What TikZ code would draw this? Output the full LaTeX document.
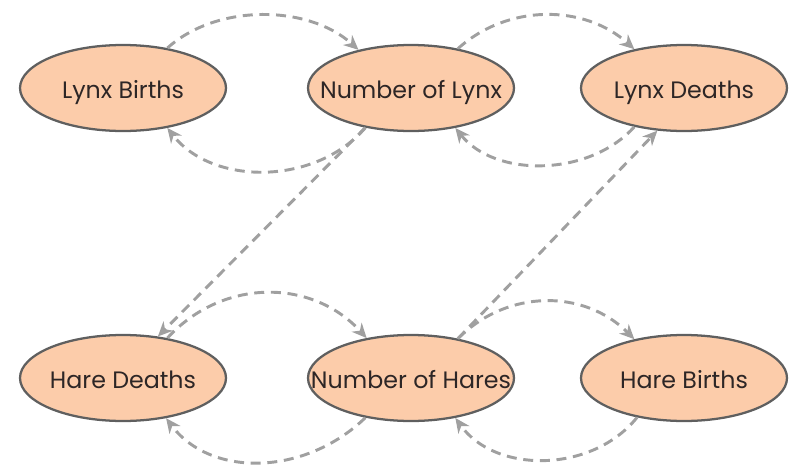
\documentclass[tikz,border=0pt]{standalone}
\usepackage{fontspec}
\setmainfont{Poppins}
\usetikzlibrary{shapes.geometric,arrows.meta}

\tikzset{every picture/.style={line width=0.75pt}}
\tikzset{
  stock/.style={ellipse, draw={rgb,255:red,95;green,95;blue,95}, line width=1.7pt,
    fill={rgb,255:red,252;green,204;blue,170}, minimum width=154.5pt, minimum height=64.5pt,
    inner xsep=-30pt, inner ysep=0pt, text height=16pt, text depth=0pt,
    text={rgb,255:red,45;green,38;blue,38}, font=\fontsize{17.8}{21}\selectfont},
  link/.style={draw={rgb,255:red,160;green,160;blue,160}, line width=2.2pt,
    dash pattern=on 7.5pt off 5pt, -{Stealth[length=11pt,width=10pt,inset=3.5pt]}},
}

\begin{document}
\begin{tikzpicture}[x=0.75pt,y=0.75pt,yscale=-1,xscale=1]
\useasboundingbox (0,0) rectangle (800,475); %diagram is 800 by 475

%Shape: Ellipse [lynx]
\node[stock] (lb) at (123,88) {Lynx Births};
\node[stock] (nl) at (411,88) {Number of Lynx};
\node[stock] (ld) at (684,88) {Lynx Deaths};
%Shape: Ellipse [hares]
\node[stock] (hd) at (123,378) {Hare Deaths};
\node[stock] (nh) at (411,378) {Number of Hares};
\node[stock] (hb) at (684,378) {Hare Births};

%Curve Lines [lynx loop]
\draw[link] (lb.42) .. controls +(50,-45) and +(-50,-45) .. (nl.144);
\draw[link] (nl.221) .. controls +(-50,58) and +(45,58) .. (lb.318);
\draw[link] (nl.40) .. controls +(50,-45) and +(-50,-45) .. (ld.142);
\draw[link] (ld.218) .. controls +(-45,50) and +(40,50) .. (nl.318);
%Straight Lines [cross links]
\draw[link] (nl.221) -- (hd.50);
\draw[link] (nh.40) -- (ld.238);
%Curve Lines [hare loop]
\draw[link] (hd.42) .. controls +(55,-60) and +(-55,-60) .. (nh.138);
\draw[link] (nh.221) .. controls +(-60,58) and +(45,60) .. (hd.317);
\draw[link] (nh.40) .. controls +(50,-50) and +(-50,-50) .. (hb.142);
\draw[link] (hb.220) .. controls +(-45,56) and +(40,56) .. (nh.318);
\end{tikzpicture}
\end{document}
